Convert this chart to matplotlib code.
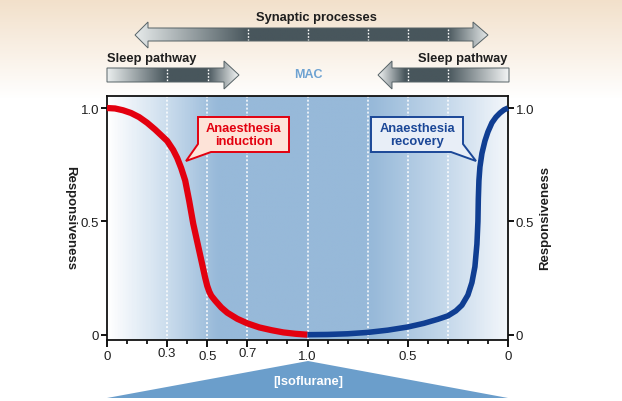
import numpy as np
import matplotlib.pyplot as plt
from matplotlib.colors import LinearSegmentedColormap
from matplotlib.patches import Polygon

plt.rcParams['font.family'] = ['Liberation Sans', 'DejaVu Sans']

# Responsiveness curves.
# x runs 0 -> 1.0 MAC (induction) and then 1.0 -> 0 MAC again (recovery),
# stored on one internal axis 0..2
induction_x = [0.0, 0.04, 0.08, 0.12, 0.16, 0.20, 0.24, 0.27, 0.30, 0.33,
               0.35, 0.37, 0.39, 0.41, 0.43, 0.45, 0.47, 0.49, 0.50, 0.51,
               0.52, 0.54, 0.57, 0.60, 0.65, 0.70, 0.76, 0.82, 0.88, 0.94,
               1.0]
induction_y = [1.0, 0.998, 0.99, 0.978, 0.96, 0.935, 0.905, 0.88, 0.855,
               0.815, 0.78, 0.735, 0.68, 0.59, 0.49, 0.41, 0.33, 0.25, 0.215,
               0.19, 0.172, 0.15, 0.12, 0.097, 0.07, 0.05, 0.032, 0.02, 0.01,
               0.004, 0.0]

recovery_x = [1.0, 1.1, 1.2, 1.3, 1.4, 1.5, 1.58, 1.65, 1.7, 1.74, 1.77,
              1.80, 1.82, 1.835, 1.845, 1.85, 1.852, 1.855, 1.86, 1.87,
              1.885, 1.90, 1.92, 1.94, 1.96, 1.98, 2.0]
recovery_y = [0.0, 0.001, 0.004, 0.01, 0.02, 0.034, 0.05, 0.068, 0.083,
              0.105, 0.13, 0.175, 0.23, 0.30, 0.40, 0.50, 0.60, 0.68, 0.74,
              0.80, 0.855, 0.895, 0.935, 0.96, 0.978, 0.992, 1.0]

xtick_pos = [0.0, 0.3, 0.5, 0.7, 1.0, 1.5, 2.0]
xtick_labels = ['0', '0.3', '0.5', '0.7', '1.0', '0.5', '0']
ytick_pos = [0.0, 0.5, 1.0]
ytick_labels = ['0', '0.5', '1.0']
dotted_x = [0.3, 0.5, 0.7, 1.0, 1.3, 1.5, 1.7]

RED = '#e3000f'
BLUE = '#103e92'
DARK = '#48565c'
TXT = '#1e1e1e'
W, H = 622, 402

fig = plt.figure(figsize=(W / 100, H / 100), dpi=100)

# background overlay in pixel coordinates
bg = fig.add_axes([0, 0, 1, 1], zorder=0)
bg.set_xlim(0, W)
bg.set_ylim(H, 0)
bg.axis('off')

beige = LinearSegmentedColormap.from_list('beige', ['#f2e0ca', '#ffffff'])
bg.imshow(np.linspace(0, 1, 100).reshape(-1, 1), cmap=beige, aspect='auto',
          extent=(0, W, 100, 0), interpolation='bilinear')


def grad_arrow(ax, pts, x0, x1, stops, dots, body):
    poly = Polygon(pts, closed=True, fc='none', ec='#566266', lw=0.7, zorder=3)
    ax.add_patch(poly)
    cmap = LinearSegmentedColormap.from_list(
        'g', [((x - x0) / (x1 - x0), c) for x, c in stops])
    ys = [p[1] for p in pts]
    im = ax.imshow(np.linspace(0, 1, 256).reshape(1, -1), cmap=cmap,
                   aspect='auto', extent=(x0, x1, max(ys), min(ys)),
                   interpolation='bilinear', zorder=2)
    im.set_clip_path(poly)
    for d in dots:
        ax.plot([d, d], body, color='white', lw=1.0, ls=(0, (1.2, 1.2)),
                zorder=4)


# Synaptic processes (double arrow)
grad_arrow(bg,
           [(135, 36), (148, 23), (148, 29), (473, 29), (473, 23), (488, 36),
            (473, 49), (473, 42), (148, 42), (148, 49)],
           135, 488,
           [(135, '#e6eaea'), (248, DARK), (448, DARK), (488, '#e2e6e6')],
           [248, 308, 368, 408, 448], (30, 41))
bg.text(316, 18, 'Synaptic processes', ha='center', va='center',
        fontsize=9.3, fontweight='bold', color=TXT)

# Sleep pathway arrows
grad_arrow(bg,
           [(107, 69), (224, 69), (224, 62), (239, 76), (224, 90), (224, 83),
            (107, 83)],
           107, 239,
           [(107, '#eaeeee'), (167, DARK), (208, DARK), (239, '#f4f6f6')],
           [167, 208], (70, 82))
grad_arrow(bg,
           [(378, 76), (392, 62), (392, 69), (509, 69), (509, 83), (392, 83),
            (392, 90)],
           378, 509,
           [(378, '#f2f4f4'), (405, DARK), (448, DARK), (509, '#f2f4f4')],
           [408, 448], (70, 82))
bg.text(107, 59, 'Sleep pathway', ha='left', va='center', fontsize=9.3,
        fontweight='bold', color=TXT)
bg.text(507, 59, 'Sleep pathway', ha='right', va='center', fontsize=9.3,
        fontweight='bold', color=TXT)
bg.text(308, 75, 'MAC', ha='center', va='center', fontsize=9,
        fontweight='bold', color='#6fa3d2')

# [Isoflurane] triangle
bg.add_patch(Polygon([(107, 399), (308, 362), (508, 399)], closed=True,
                     fc='#6b9ecb', ec='none'))
bg.text(308, 382, '[Isoflurane]', ha='center', va='center', fontsize=9.3,
        fontweight='bold', color='white')

# main chart
ax = fig.add_axes([107 / W, 61 / H, 401 / W, 244 / H], zorder=2)
ax.set_xlim(0, 2)
ax.set_ylim(-0.0234, 1.053)

blue_bg = '#97b9d9'
bgmap = LinearSegmentedColormap.from_list(
    'axbg', [(0.0, '#ffffff'), (0.12, '#d6e4f1'), (0.275, blue_bg),
             (0.66, blue_bg), (0.85, '#c6d9eb'), (1.0, '#f4f7fb')])
ax.imshow(np.linspace(0, 1, 400).reshape(1, -1), cmap=bgmap, aspect='auto',
          extent=(0, 2, -0.0234, 1.053), interpolation='bilinear', zorder=0)

for x in dotted_x:
    ax.axvline(x, color='white', lw=1.1, ls=(0, (1.3, 1.3)), zorder=1)

ax.plot(induction_x, induction_y, color=RED, lw=4.5, solid_capstyle='butt',
        solid_joinstyle='round', zorder=3, clip_on=False)
ax.plot(recovery_x, recovery_y, color=BLUE, lw=4.0, solid_capstyle='butt',
        solid_joinstyle='round', zorder=3, clip_on=False)

for s in ax.spines.values():
    s.set_linewidth(1.3)
    s.set_color('#111111')

ax.set_xticks(xtick_pos)
ax.set_xticklabels(xtick_labels)
ax.set_xticks(np.arange(0, 2.01, 0.1), minor=True)
ax.set_yticks(ytick_pos)
ax.set_yticklabels(ytick_labels)
ax.tick_params(axis='x', which='major', length=5, width=1.3, pad=2,
               labelsize=9.5, labelcolor=TXT, direction='out')
ax.tick_params(axis='x', which='minor', length=3, width=1.2, direction='out')
ax.tick_params(axis='y', which='major', length=4, width=1.3, pad=1.5,
               labelsize=9.5, labelcolor=TXT, left=True, right=True,
               labelleft=True, labelright=True, direction='out')
for t, v in zip(ax.xaxis.get_major_ticks(), xtick_pos):
    if v in (0.3, 0.7):
        t.tick1line.set_markersize(3)
        t.set_pad(0)

ax.text(-0.092, 0.505, 'Responsiveness', transform=ax.transAxes,
        rotation=270, ha='center', va='center', fontsize=9.5,
        fontweight='bold', color=TXT)
ax.text(1.092, 0.505, 'Responsiveness', transform=ax.transAxes, rotation=90,
        ha='center', va='center', fontsize=9.5, fontweight='bold', color=TXT)

# callouts in pixel space on top of the chart
fg = fig.add_axes([0, 0, 1, 1], zorder=5)
fg.set_xlim(0, W)
fg.set_ylim(H, 0)
fg.axis('off')
fg.patch.set_alpha(0)

fg.add_patch(Polygon([(198, 118), (289, 118), (289, 153), (211, 153),
                      (186, 162), (198, 145)], closed=True, fc='#fde3d8',
                     ec=RED, lw=1.4, joinstyle='miter'))
fg.text(243.5, 135.5, 'Anaesthesia\ninduction', ha='center', va='center',
        fontsize=9.3, fontweight='bold', color=RED, linespacing=1.05)

fg.add_patch(Polygon([(371, 118), (463, 118), (463, 145), (476, 162),
                      (451, 153), (371, 153)], closed=True, fc='#e8eef7',
                     ec='#1b4797', lw=1.4, joinstyle='miter'))
fg.text(417, 135.5, 'Anaesthesia\nrecovery', ha='center', va='center',
        fontsize=9.3, fontweight='bold', color='#1b4797', linespacing=1.05)

fig.savefig('out.png', dpi=100)
